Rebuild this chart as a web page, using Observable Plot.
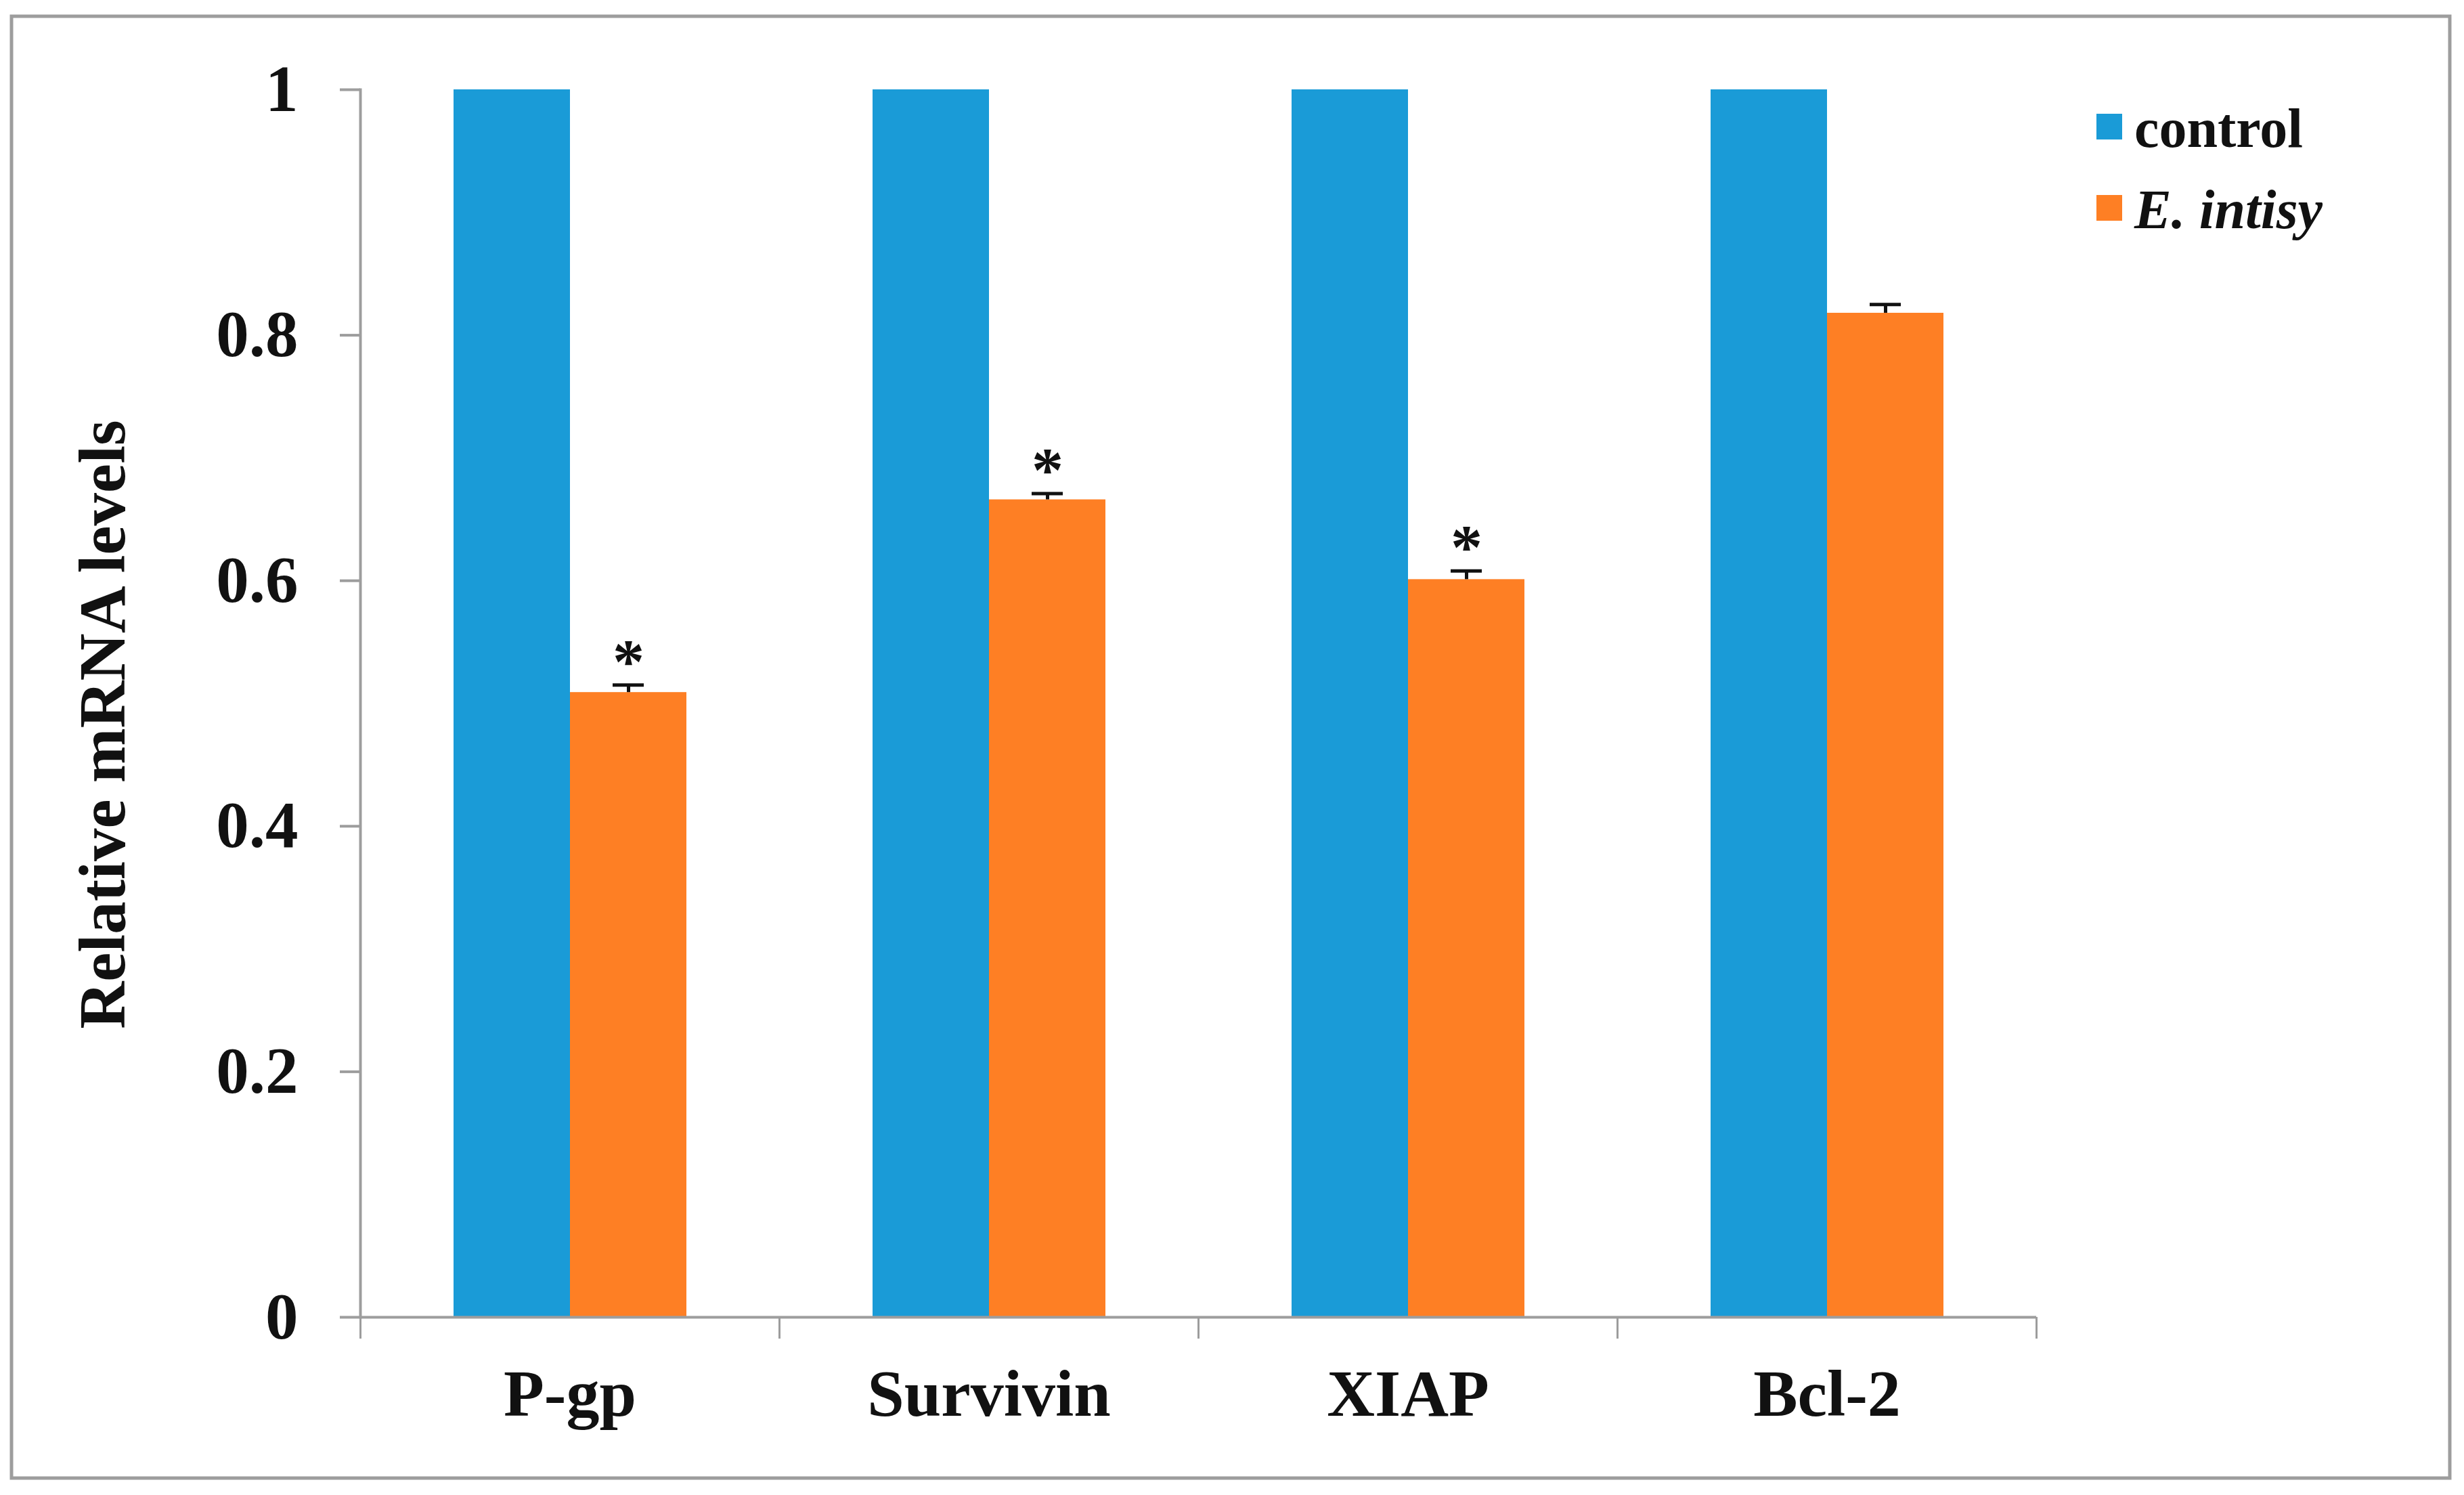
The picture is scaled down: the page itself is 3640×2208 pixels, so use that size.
<!DOCTYPE html>
<html>
<head>
<meta charset="utf-8">
<script src="https://cdn.jsdelivr.net/npm/d3@7"></script>
<script src="https://cdn.jsdelivr.net/npm/@observablehq/plot@0.6"></script>
<style>
  html, body { margin: 0; padding: 0; background: #fff; }
  #wrap { position: relative; width: 3640px; height: 2208px; background: #fff; overflow: hidden; }
  #wrap > svg { position: absolute; left: 0; top: 0; }
  #overlay { pointer-events: none; }
</style>
</head>
<body>
<div id="wrap"></div>
<script>
// ---- data ----
const genes = ["P-gp", "Survivin", "XIAP", "Bcl-2"];
const series = ["control", "E. intisy"];
const controlValues = [1, 1, 1, 1];
const treatedValues = [0.509, 0.666, 0.601, 0.818];
const treatedErrors = [0.006, 0.005, 0.007, 0.007];
const significant = [true, true, true, false];
const yTicks = [0, 0.2, 0.4, 0.6, 0.8, 1];
const yTickLabels = ["0", "0.2", "0.4", "0.6", "0.8", "1"];
const seriesColors = ["#1a9bd7", "#fe7f24"];
const yTitle = "Relative mRNA levels";

// ---- derived tables ----
const rows = [];
genes.forEach((g, i) => {
  rows.push({gene: g, series: series[0], value: controlValues[i]});
  rows.push({gene: g, series: series[1], value: treatedValues[i]});
});
const treatedRows = genes.map((g, i) => ({
  gene: g, series: series[1], value: treatedValues[i], hi: treatedValues[i] + treatedErrors[i], sig: significant[i]
}));

// ---- layout ----
const W = 3640, H = 2208;
const mL = 532, mR = 632, mT = 132, mB = 263;
const fw = (W - mL - mR) / genes.length;
const font = "'Liberation Serif', 'Times New Roman', serif";
const gray = "#9d9d9d";

const chart = Plot.plot({
  width: W, height: H,
  marginLeft: mL, marginRight: mR, marginTop: mT, marginBottom: mB,
  style: {fontFamily: font, background: "transparent", overflow: "visible"},
  fx: {domain: genes, padding: 0, label: null},
  x: {domain: series, paddingInner: 0, paddingOuter: 0.79, axis: null},
  y: {domain: [0, 1], label: null},
  color: {domain: series, range: seriesColors},
  marks: [
    Plot.barY(rows, {fx: "gene", x: "series", y: "value", fill: "series"}),
    Plot.ruleX(treatedRows, {fx: "gene", x: "series", y1: "value", y2: "hi", stroke: "#111", strokeWidth: 5}),
    Plot.tickY(treatedRows, {fx: "gene", x: "series", y: "hi", stroke: "#111", strokeWidth: 5, insetLeft: 63, insetRight: 63}),
    Plot.text(treatedRows.filter(d => d.sig), {fx: "gene", x: "series", y: "hi", text: () => "*",
      lineAnchor: "bottom", dy: -4, fontSize: 94, fontWeight: "bold", fill: "#111"}),
    Plot.ruleY([0], {stroke: gray, strokeWidth: 4}),
    Plot.frame({anchor: "left", facetAnchor: "left", stroke: gray, strokeWidth: 4}),
    Plot.axisY({ticks: yTicks, tickFormat: (d) => yTickLabels[yTicks.indexOf(d)], tickSize: 30, tickPadding: 62,
      fontSize: 97, fontWeight: "bold", fill: "#111", stroke: gray, strokeWidth: 4, label: null}),
    Plot.axisFx({anchor: "bottom", tickSize: 0, tickPadding: 76, fontSize: 98, fontWeight: "bold", fill: "#111", label: null}),
    Plot.axisFx({anchor: "bottom", tickSize: 32, tickFormat: () => "", dx: -fw / 2, stroke: gray, strokeWidth: 3, label: null}),
    Plot.axisFx({anchor: "bottom", ticks: [genes[genes.length - 1]], tickSize: 32, tickFormat: () => "", dx: fw / 2, stroke: gray, strokeWidth: 3, label: null})
  ]
});
document.getElementById("wrap").appendChild(chart);

// ---- overlay: outer border, y title, legend ----
const ov = d3.select("#wrap").append("svg").attr("id", "overlay")
  .attr("width", W).attr("height", H).attr("font-family", font);
ov.append("rect").attr("x", 17).attr("y", 24).attr("width", 3602).attr("height", 2159)
  .attr("fill", "none").attr("stroke", gray).attr("stroke-width", 5);
ov.append("text").attr("transform", "translate(184,1070) rotate(-90)")
  .attr("text-anchor", "middle").attr("font-size", 97).attr("font-weight", "bold").attr("fill", "#111")
  .text(yTitle);
const lg = ov.append("g").attr("transform", "translate(3097,217)");
series.forEach((s, i) => {
  const row = lg.append("g").attr("transform", `translate(0,${i * 120})`);
  row.append("rect").attr("x", 0).attr("y", -49).attr("width", 38).attr("height", 38).attr("fill", seriesColors[i]);
  row.append("text").attr("x", 56).attr("y", 0).attr("font-size", 82).attr("font-weight", "bold")
    .attr("font-style", i === 1 ? "italic" : "normal").attr("fill", "#111").text(s);
});
</script>
</body>
</html>
